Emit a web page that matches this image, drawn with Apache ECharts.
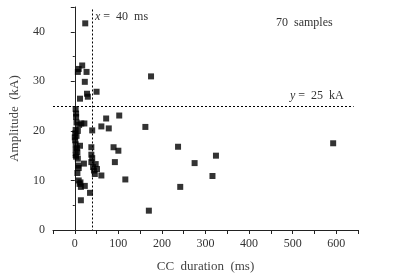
<!DOCTYPE html>
<html>
<head>
<meta charset="utf-8">
<script src="https://cdn.jsdelivr.net/npm/echarts@6/dist/echarts.min.js"></script>
<style>
  html, body { margin: 0; padding: 0; background: #fff; }
  #main { width: 399px; height: 278px; }
</style>
</head>
<body>
<div id="main"></div>
<script>
// CC duration (ms) of each sample
var ccDuration = [
  24, 175, 50, 102, 72, 61, 78, 162, 40, 237,
  324, 275, 316, 242, 170, 593, 116, 100, 89, 92,
  17, 9, 7, 27, 23, 28, 30, 12, 2, 3,
  4, 15, 22, 10, 2, 1, 0, 1, 2, 12,
  2, 6, 2, 7, 3, 21, 9, 6, 9, 11,
  14, 23, 35, 14, 38, 38, 40, 38, 48, 42,
  51, 46, 61, 5, 4, 8, 13, 44, 3, 7
];
// peak current amplitude (kA) of each sample
var amplitude = [
  41.7, 31.0, 27.9, 23.1, 22.5, 20.9, 20.5, 20.8, 20.1, 16.8,
  15.0, 13.5, 10.9, 8.7, 3.9, 17.5, 10.2, 16.0, 16.7, 13.7,
  33.2, 32.5, 31.9, 31.9, 29.9, 27.5, 26.9, 26.5, 24.4, 22.8,
  21.7, 21.5, 21.5, 21.2, 20.2, 19.5, 18.7, 18.1, 17.3, 17.0,
  16.2, 15.7, 15.1, 14.4, 14.8, 13.4, 12.5, 11.5, 10.0, 9.3,
  8.7, 8.9, 7.5, 6.0, 16.7, 15.2, 14.5, 13.7, 13.3, 12.7,
  12.3, 11.3, 11.0, 16.5, 19.0, 13.0, 9.6, 12.0, 23.5, 20.0
];
var xTicks = [-50, 0, 100, 200, 300, 400, 500, 600, 650];
var yTicks = [0, 10, 20, 30, 40, 45];
var xThreshold = 40;
var yThreshold = 25;

var points = [];
for (var i = 0; i < ccDuration.length; i++) {
  points.push([ccDuration[i], amplitude[i]]);
}

var font = 'Liberation Serif';
var ink = '#222';

var chart = echarts.init(document.getElementById('main'));
chart.setOption({
  animation: false,
  grid: { left: 52, top: 7, width: 306, height: 226 },
  xAxis: {
    type: 'value',
    min: xTicks[0],
    max: xTicks[xTicks.length - 1],
    interval: 50,
    name: 'CC  duration  (ms)',
    nameLocation: 'middle',
    nameGap: 30,
    nameTextStyle: { fontFamily: font, fontSize: 13, color: '#444' },
    axisLine: { onZero: false, lineStyle: { color: ink, width: 1 } },
    axisTick: { inside: false, length: 4, lineStyle: { color: ink } },
    splitLine: { show: false },
    axisLabel: {
      margin: 8,
      fontFamily: font, fontSize: 12, color: '#333',
      formatter: function (v) {
        return (v >= 0 && v <= 600 && v % 100 === 0) ? String(v) : '';
      }
    }
  },
  yAxis: {
    type: 'value',
    min: yTicks[0],
    max: yTicks[yTicks.length - 1],
    interval: 10,
    name: 'Amplitude  (kA)',
    nameLocation: 'middle',
    nameGap: 32,
    nameTextStyle: { fontFamily: font, fontSize: 13, color: '#444' },
    axisLine: { show: true, lineStyle: { color: ink, width: 1 } },
    axisTick: { show: true, inside: false, length: 4, lineStyle: { color: ink } },
    minorTick: { show: true, splitNumber: 2, length: 2, lineStyle: { color: ink } },
    splitLine: { show: false },
    axisLabel: {
      margin: 8,
      fontFamily: font, fontSize: 12, color: '#333',
      formatter: function (v) {
        return (v % 10 === 0 && v <= 40) ? String(v) : '';
      }
    }
  },
  series: [{
    type: 'scatter',
    symbol: 'rect',
    symbolSize: 6,
    itemStyle: { color: '#000' },
    data: points,
    markLine: {
      silent: true,
      symbol: 'none',
      label: { show: false },
      lineStyle: { color: '#000', type: [2, 2], width: 1 },
      data: [
        [{ coord: [xThreshold, 44.5] }, { coord: [xThreshold, 0] }],
        [{ coord: [-50, yThreshold] }, { coord: [640, yThreshold] }]
      ]
    }
  }],
  graphic: [
    {
      type: 'text', left: 95, top: 11,
      style: {
        text: '{i|x} =  40  ms',
        rich: { i: { fontStyle: 'italic', fontFamily: font, fontSize: 12, fill: '#333' } },
        font: '12px "Liberation Serif"', fill: '#333'
      }
    },
    {
      type: 'text', left: 276, top: 17,
      style: { text: '70  samples', font: '12px "Liberation Serif"', fill: '#333' }
    },
    {
      type: 'text', left: 290, top: 90,
      style: {
        text: '{i|y} =  25  kA',
        rich: { i: { fontStyle: 'italic', fontFamily: font, fontSize: 12, fill: '#333' } },
        font: '12px "Liberation Serif"', fill: '#333'
      }
    }
  ]
});
</script>
</body>
</html>
